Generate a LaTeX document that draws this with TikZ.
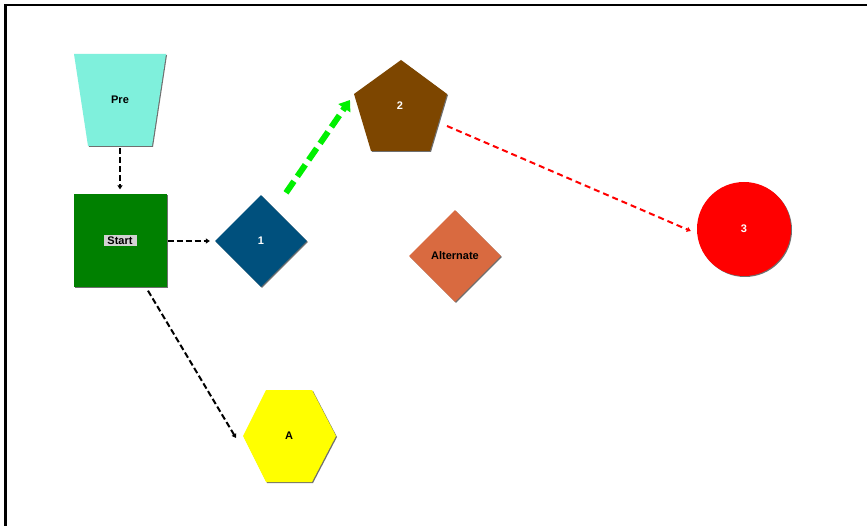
\documentclass[tikz,border=0pt]{standalone}
\usepackage{fontspec}
\setmainfont{Liberation Sans}
\usetikzlibrary{shapes.geometric,arrows.meta,calc,shadows}
\definecolor{preC}{RGB}{127,240,220}
\definecolor{startC}{RGB}{0,128,0}
\definecolor{oneC}{RGB}{0,80,125}
\definecolor{twoC}{RGB}{125,70,0}
\definecolor{altC}{RGB}{217,106,64}
\definecolor{threeC}{RGB}{255,0,0}
\definecolor{hexC}{RGB}{255,255,0}
\definecolor{lblC}{RGB}{210,210,210}
\definecolor{linkG}{RGB}{0,240,0}
\tikzset{
  x=1pt, y=-1pt,
  sh/.style={drop shadow={shadow xshift=1pt, shadow yshift=-1pt, opacity=0.7, fill=black!80}},
  txt/.style={font=\fontsize{11}{13}\selectfont\bfseries, inner sep=0pt},
  shp/.style={sh, inner sep=0pt, draw=none},
  blink/.style={dashed, dash pattern=on 6pt off 3pt, line width=2pt, black, -{Triangle[length=4pt,width=5pt]}},
  rlink/.style={dash pattern=on 6pt off 4pt, line width=2pt, threeC, -{Triangle[length=4pt,width=5pt]}},
  glink/.style={dash pattern=on 14pt off 6pt, line width=6pt, linkG, -{Triangle[length=10pt,width=14pt]}},
}
\begin{document}
\begin{tikzpicture}
\useasboundingbox (0,0) rectangle (867,526);
\fill[white] (0,0) rectangle (867,526);
\draw[line width=2.2pt, black] (5.5,526) -- (5.5,5) -- (867,5);

% Pre trapezoid
\fill[preC, sh] (74,54) -- (166,54) -- (152,146) -- (88,146) -- cycle;
\node[txt, minimum width=64pt, minimum height=92pt] (pre) at (120,100) {Pre};

% Start square
\node[shp, fill=startC, minimum size=93pt] (start) at (120,241) {};
\node[txt, fill=lblC, minimum width=33pt, minimum height=11pt] (startlbl) at (start) {Start};

% Node 1 diamond
\node[shp, diamond, fill=oneC, minimum width=92pt, minimum height=92pt, txt, text=white] (one) at (261,241) {1};

% Node 2 pentagon
\fill[twoC, sh] (401,60) -- (447,94) -- (430,151) -- (371,151) -- (354,94) -- cycle;
\node[txt, text=white] (two) at (400,106) {2};

% Alternate diamond
\node[shp, diamond, fill=altC, minimum width=92pt, minimum height=92pt, txt] (alt) at (455,256) {Alternate};

% Node 3 circle
\node[shp, circle, fill=threeC, minimum size=94pt, txt, text=white] (three) at (744,229) {3};

% Hexagon A
\fill[hexC, sh] (243,436) -- (266,390) -- (312,390) -- (336,436) -- (312,482) -- (266,482) -- cycle;
\node[txt] (hexA) at (289,436) {A};

% Connectors
\draw[blink] ($(pre.south)+(0,2)$) -- ($(start.north)+(0,-5)$);
\draw[blink] ($(start.east)+(1,0)$) -- ($(one.west)+(-5,0)$);
\draw[blink] ($(start.south)+(28,3)$) -- ($(hexA)+(-53,2)$);
\draw[glink] ($(one.north)+(25,-2)$) -- ($(two)+(-50,-6)$);
\draw[rlink] ($(two)+(47,20)$) -- ($(three.west)+(-6,2)$);
\end{tikzpicture}
\end{document}
